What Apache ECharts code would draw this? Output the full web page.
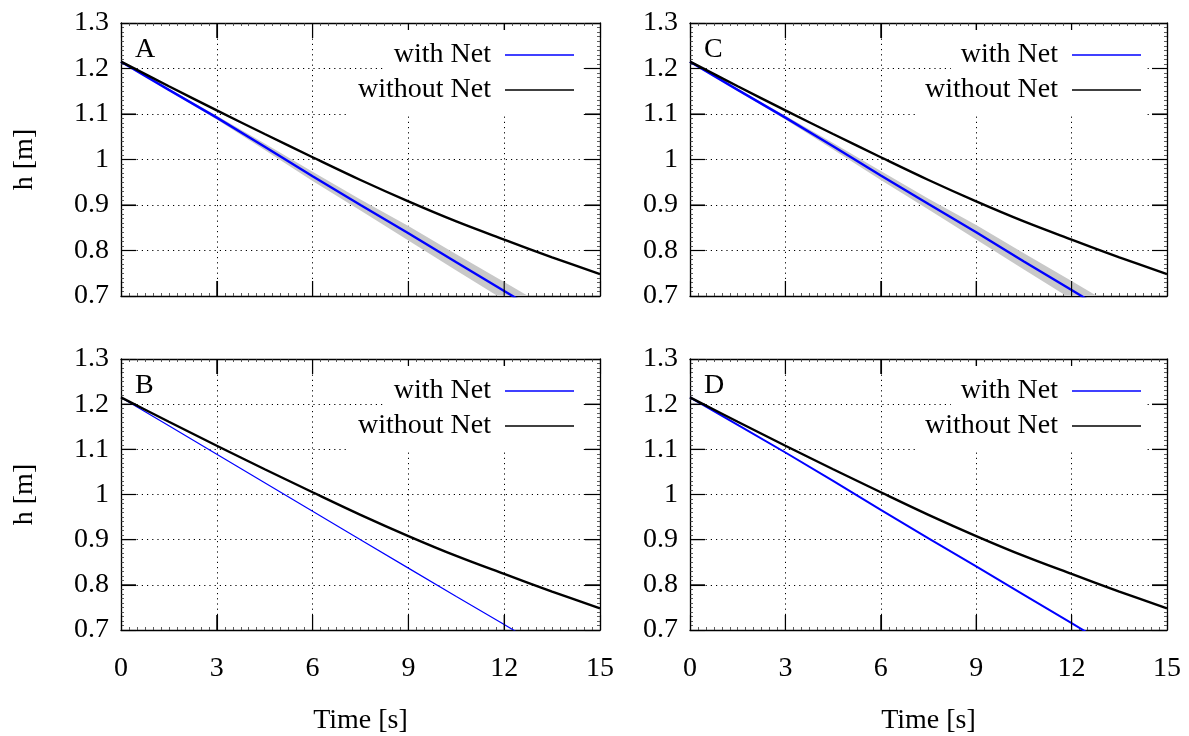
<!DOCTYPE html>
<html>
<head>
<meta charset="utf-8">
<script src="https://cdn.jsdelivr.net/npm/echarts@6/dist/echarts.min.js"></script>
<style>
html,body{margin:0;padding:0;background:#fff;}
#chart{width:1189px;height:736px;}
</style>
</head>
<body>
<div id="chart"></div>
<script>
// ---- data ----
const panelLabels = ['A', 'B', 'C', 'D'];
const tBlue = [0, 1.5, 3, 4.5, 6, 7.5, 9, 10.5, 12, 13.5];
const tBlack = [0, 1.5, 3, 4.5, 6, 7.5, 9, 10.5, 12, 13.5, 15];
const blueA = [1.215, 1.153, 1.092, 1.028, 0.963, 0.900, 0.838, 0.774, 0.711, 0.648];
const blueB = [1.215, 1.152, 1.089, 1.026, 0.963, 0.900, 0.837, 0.774, 0.712, 0.649];
const blueC = [1.215, 1.153, 1.092, 1.029, 0.965, 0.902, 0.840, 0.776, 0.713, 0.650];
const blueD = [1.215, 1.154, 1.093, 1.030, 0.966, 0.903, 0.841, 0.778, 0.715, 0.652];
const bandLowA = [1.215, 1.151, 1.088, 1.021, 0.953, 0.888, 0.822, 0.756, 0.691, 0.627];
const bandHighA = [1.215, 1.155, 1.096, 1.035, 0.973, 0.912, 0.854, 0.792, 0.731, 0.669];
const bandLowC = [1.215, 1.151, 1.088, 1.022, 0.955, 0.890, 0.824, 0.758, 0.693, 0.629];
const bandHighC = [1.215, 1.155, 1.096, 1.036, 0.975, 0.914, 0.856, 0.794, 0.733, 0.671];
const blackA = [1.215, 1.161, 1.108, 1.056, 1.005, 0.955, 0.908, 0.864, 0.824, 0.785, 0.748];
const blackB = [1.215, 1.161, 1.108, 1.056, 1.005, 0.955, 0.908, 0.864, 0.824, 0.785, 0.748];
const blackC = [1.215, 1.161, 1.108, 1.056, 1.005, 0.955, 0.908, 0.864, 0.824, 0.785, 0.748];
const blackD = [1.215, 1.161, 1.108, 1.056, 1.005, 0.955, 0.908, 0.864, 0.824, 0.785, 0.748];
const xTicks = [0, 3, 6, 9, 12, 15];
const yTicks = [0.7, 0.8, 0.9, 1.0, 1.1, 1.2, 1.3];
const legendNames = ['with Net', 'without Net'];
const xName = 'Time [s]';
const yName = 'h [m]';

// ---- layout ----
const FONT = 'Liberation Serif';
const FS = 28;
const TICK_LEN = 15;
const panels = [
  {label: 'A', left: 121, top: 23, width: 479, height: 273, blue: blueA, black: blackA, low: bandLowA, high: bandHighA, blueW: 2.4, showX: false, showY: true},
  {label: 'B', left: 121, top: 359, width: 479, height: 272, blue: blueB, black: blackB, low: null, high: null, blueW: 1.2, showX: true, showY: true},
  {label: 'C', left: 690, top: 23, width: 477, height: 273, blue: blueC, black: blackC, low: bandLowC, high: bandHighC, blueW: 2.4, showX: false, showY: false},
  {label: 'D', left: 690, top: 359, width: 477, height: 272, blue: blueD, black: blackD, low: null, high: null, blueW: 2.0, showX: true, showY: false}
];

const pairs = (xs, ys) => ys.map((y, i) => [xs[i], y]);
const textStyle = () => ({fontFamily: FONT, fontSize: FS, color: '#000'});
const tickStyle = () => ({show: true, inside: true, length: TICK_LEN, lineStyle: {color: '#000', width: 1.1}});
const minorX = () => ({show: true, splitNumber: 12, length: 3, lineStyle: {color: '#333', width: 0.8}});
const minorY = () => ({show: true, splitNumber: 10, length: 3, lineStyle: {color: '#333', width: 0.8}});
const axisLine = () => ({show: true, onZero: false, lineStyle: {color: '#000', width: 1.3}});
const gridLine = () => ({show: true, lineStyle: {color: '#000', width: 1, type: [1.2, 4]}});

const grid = [], xAxis = [], yAxis = [], series = [], legend = [], title = [];
panels.forEach((p, gi) => {
  grid.push({left: p.left, top: p.top, width: p.width, height: p.height, containLabel: false});
  const xMin = xTicks[0], xMax = xTicks[xTicks.length - 1], yMin = yTicks[0], yMax = yTicks[yTicks.length - 1];
  xAxis.push({
    type: 'value', gridIndex: gi, position: 'bottom', min: xMin, max: xMax, interval: 3,
    axisLine: axisLine(), axisTick: tickStyle(), minorTick: minorX(),
    axisLabel: {show: p.showX, margin: 25, ...textStyle()},
    splitLine: gridLine(),
    name: p.showX ? xName : '', nameLocation: 'middle', nameGap: 77, nameMoveOverlap: false, nameTextStyle: textStyle()
  });
  xAxis.push({
    type: 'value', gridIndex: gi, position: 'top', min: xMin, max: xMax, interval: 3,
    axisLine: axisLine(), axisTick: tickStyle(), minorTick: minorX(), axisLabel: {show: false}, splitLine: {show: false}
  });
  yAxis.push({
    type: 'value', gridIndex: gi, position: 'left', min: yMin, max: yMax, interval: 0.1,
    axisLine: axisLine(), axisTick: tickStyle(), minorTick: minorY(),
    axisLabel: {show: true, margin: 12, ...textStyle()},
    splitLine: gridLine(),
    name: p.showY ? yName : '', nameLocation: 'middle', nameGap: 82, nameMoveOverlap: false, nameTextStyle: textStyle()
  });
  yAxis.push({
    type: 'value', gridIndex: gi, position: 'right', min: yMin, max: yMax, interval: 0.1,
    axisLine: axisLine(), axisTick: tickStyle(), minorTick: minorY(), axisLabel: {show: false}, splitLine: {show: false}
  });
  const xi = gi * 2, yi = gi * 2;
  if (p.low) {
    const low = p.low, high = p.high;
    series.push({
      type: 'custom', name: 'band-' + p.label, xAxisIndex: xi, yAxisIndex: yi, clip: true, silent: true, z: 1,
      data: tBlue.map((t, i) => [t, low[i], high[i]]),
      encode: {x: 0, y: [1, 2]},
      renderItem: function (params, api) {
        if (params.dataIndex !== 0) return null;
        const pts = [];
        for (let i = 0; i < tBlue.length; i++) pts.push(api.coord([tBlue[i], high[i]]));
        for (let i = tBlue.length - 1; i >= 0; i--) pts.push(api.coord([tBlue[i], low[i]]));
        return {type: 'polygon', shape: {points: pts}, style: {fill: '#c8c8c8', stroke: null}};
      }
    });
  }
  series.push({
    type: 'line', name: legendNames[0], xAxisIndex: xi, yAxisIndex: yi, data: pairs(tBlue, p.blue),
    symbol: 'none', lineStyle: {color: '#0000ff', width: p.blueW}, itemStyle: {color: '#0000ff'}, z: 2
  });
  series.push({
    type: 'line', name: legendNames[1], xAxisIndex: xi, yAxisIndex: yi, data: pairs(tBlack, p.black),
    symbol: 'none', smooth: 0.35, lineStyle: {color: '#000', width: 2.4}, itemStyle: {color: '#000'}, z: 2
  });
  // long inward major ticks on all four sides, placed through the axes' scales
  series.push({
    type: 'custom', name: 'ticks-' + p.label, xAxisIndex: xi, yAxisIndex: yi, clip: false, silent: true, z: 3,
    data: [[xMin, yMin]], encode: {x: 0, y: 1},
    renderItem: function (params, api) {
      const st = {stroke: '#000', lineWidth: 1.1};
      const kids = [];
      xTicks.slice(1, -1).forEach(t => {
        const b = api.coord([t, yMin]), tp = api.coord([t, yMax]);
        kids.push({type: 'line', shape: {x1: b[0], y1: b[1], x2: b[0], y2: b[1] - TICK_LEN}, style: st});
        kids.push({type: 'line', shape: {x1: tp[0], y1: tp[1], x2: tp[0], y2: tp[1] + TICK_LEN}, style: st});
      });
      yTicks.slice(1, -1).forEach(v => {
        const l = api.coord([xMin, v]), r = api.coord([xMax, v]);
        kids.push({type: 'line', shape: {x1: l[0], y1: l[1], x2: l[0] + TICK_LEN, y2: l[1]}, style: st});
        kids.push({type: 'line', shape: {x1: r[0], y1: r[1], x2: r[0] - TICK_LEN, y2: r[1]}, style: st});
      });
      return {type: 'group', children: kids};
    }
  });
  const iconRight = p.left + p.width - 26;
  const rightPos = 1189 - iconRight;
  const legCommon = {
    show: true, orient: 'horizontal', align: 'right', itemWidth: 69, itemHeight: 1.6,
    icon: 'rect', selectedMode: false, backgroundColor: '#fff',
    textStyle: {...textStyle(), lineHeight: 30, padding: [0, 9, 0, 0]},
    left: 'auto', bottom: 'auto'
  };
  legend.push({...legCommon, data: [legendNames[0]], right: rightPos - 6, top: p.top + 32 - 15 - 10, padding: [10, 6, 3, 10]});
  legend.push({...legCommon, data: [legendNames[1]], right: rightPos - 6, top: p.top + 67 - 15 - 3, padding: [3, 6, 10, 10]});
  title.push({text: p.label, left: p.left + 14, top: p.top + 13, padding: 0,
    textStyle: {fontFamily: FONT, fontSize: FS, fontWeight: 'normal', color: '#000'}});
});

const chart = echarts.init(document.getElementById('chart'), null, {renderer: 'canvas'});
chart.setOption({
  backgroundColor: '#fff',
  animation: false,
  title, grid, xAxis, yAxis, series, legend
});
</script>
</body>
</html>
